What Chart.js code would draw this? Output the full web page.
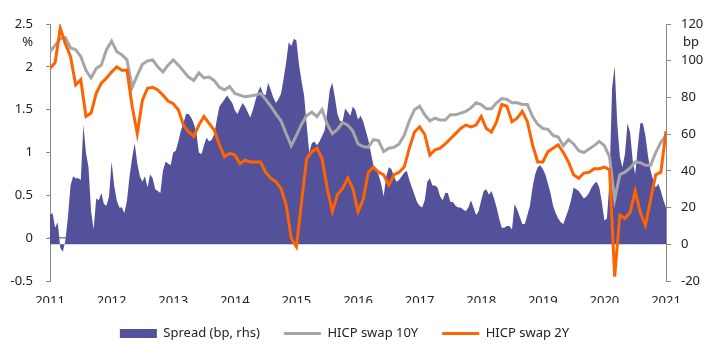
<!DOCTYPE html>
<html>
<head>
<meta charset="utf-8">
<script src="https://cdn.jsdelivr.net/npm/chart.js@4"></script>
<style>
  html, body { margin: 0; padding: 0; background: #fff; }
  #chart { display: block; }
</style>
</head>
<body>
<canvas id="chart" width="717" height="360"></canvas>
<script>
/** Year tick labels along the bottom */
const yearTicks = [2011, 2012, 2013, 2014, 2015, 2016, 2017, 2018, 2019, 2020, 2021];

/** Spread, bp (right axis), twice a month from Jan 2011 */
const spread = [
  16, 17, 9, 12, -2, -4, 2, 15, 32, 37, 36, 36, 35, 65, 50, 42, 18, 8, 25, 24, 28, 22, 21, 26,
  45, 32, 24, 20, 20, 17, 24, 37, 47, 55, 44, 37, 34, 37, 31, 38, 36, 30, 29, 28, 40, 45, 44, 43,
  50, 51, 56, 62, 66, 71, 71, 69, 66, 61, 50, 49, 54, 58, 56, 57, 60, 68, 75, 77, 79, 81, 79, 77,
  73, 71, 74, 77, 75, 72, 69, 73, 78, 83, 86, 82, 81, 88, 84, 80, 77, 79, 82, 90, 99, 110, 108, 112,
  111, 98, 89, 81, 65, 50, 55, 56, 54, 56, 59, 62, 72, 84, 88, 80, 71, 67, 67, 74, 72, 70, 75, 73,
  68, 70, 67, 62, 57, 50, 43, 40, 38, 33, 26, 37, 42, 41, 37, 34, 35, 37, 39, 40, 35, 31, 27, 23,
  21, 20, 24, 34, 36, 32, 32, 31, 26, 24, 28, 28, 23, 23, 21, 20, 20, 19, 18, 20, 24, 20, 16, 18,
  24, 29, 30, 27, 29, 25, 20, 14, 9, 9, 10, 10, 8, 22, 19, 15, 11, 11, 16, 21, 31, 38, 42, 43,
  41, 38, 33, 28, 21, 17, 14, 12, 11, 15, 19, 24, 31, 30, 29, 27, 25, 26, 28, 31, 33, 34, 31, 23,
  13, 14, 35, 85, 97, 66, 48, 42, 49, 66, 61, 46, 38, 53, 66, 66, 59, 48, 40, 35, 31, 33, 29, 24,
  20
];

/** HICP swap 10Y, % (left axis), monthly from Jan 2011 */
const swap10y = [
  2.18, 2.25, 2.33, 2.34, 2.22, 2.2, 2.12, 1.96, 1.87, 1.98, 2.02, 2.2,
  2.3, 2.18, 2.14, 2.08, 1.76, 1.9, 2.03, 2.07, 2.08, 2.0, 1.94, 2.02,
  2.08, 2.02, 1.95, 1.88, 1.84, 1.93, 1.87, 1.88, 1.84, 1.76, 1.73, 1.77,
  1.69, 1.67, 1.65, 1.66, 1.67, 1.69, 1.62, 1.54, 1.45, 1.37, 1.22, 1.08,
  1.2, 1.33, 1.43, 1.47, 1.42, 1.5, 1.33, 1.22, 1.27, 1.35, 1.32, 1.25,
  1.1, 1.07, 1.06, 1.15, 1.14, 1.01, 1.05, 1.06, 1.1, 1.2, 1.37, 1.5,
  1.54, 1.44, 1.37, 1.4, 1.38, 1.38, 1.44, 1.44, 1.46, 1.48, 1.52, 1.58,
  1.56, 1.51, 1.51, 1.58, 1.63, 1.62, 1.58, 1.58, 1.56, 1.56, 1.42, 1.33,
  1.28, 1.27, 1.2, 1.18, 1.08, 1.15, 1.1, 1.02, 1.0, 1.04, 1.08, 1.13,
  1.08, 0.95, 0.45, 0.74, 0.77, 0.82, 0.89, 0.88, 0.85, 0.85, 1.0, 1.12,
  1.2
];

/** HICP swap 2Y, % (left axis), monthly from Jan 2011 */
const swap2y = [
  1.98, 2.05, 2.45, 2.27, 2.12, 1.79, 1.85, 1.42, 1.46, 1.69, 1.81, 1.87,
  1.94, 2.0, 1.96, 1.96, 1.54, 1.22, 1.61, 1.75, 1.76, 1.73, 1.67, 1.6,
  1.57, 1.5, 1.32, 1.24, 1.19, 1.32, 1.42, 1.34, 1.26, 1.09, 0.95, 0.99,
  0.97, 0.87, 0.91, 0.89, 0.89, 0.89, 0.77, 0.7, 0.66, 0.58, 0.39, 0.0,
  -0.1, 0.42, 0.93, 1.01, 1.05, 0.93, 0.58, 0.31, 0.51, 0.58, 0.7, 0.58,
  0.31, 0.45, 0.77, 0.83, 0.77, 0.74, 0.62, 0.74, 0.77, 0.83, 1.05, 1.24,
  1.3, 1.21, 0.97, 1.03, 1.05, 1.1, 1.16, 1.22, 1.28, 1.32, 1.3, 1.32,
  1.42, 1.28, 1.24, 1.36, 1.56, 1.54, 1.36, 1.4, 1.48, 1.36, 1.09, 0.89,
  0.89, 1.01, 1.05, 1.09, 1.0, 0.89, 0.74, 0.7, 0.76, 0.77, 0.81, 0.81,
  0.83, 0.8, -0.45, 0.27, 0.23, 0.3, 0.55, 0.3, 0.15, 0.45, 0.74, 0.77,
  1.25
];

const seriesNames = ['Spread (bp, rhs)', 'HICP swap 10Y', 'HICP swap 2Y'];

const fontFamily = '"Noto Sans", sans-serif';
const textColor = '#222222';
const axisColor = '#8a8a8a';

// x position of each point in years, spread is twice-monthly, swaps monthly
const firstYear = yearTicks[0];
const toPoints = (values, perYear) => values.map((v, i) => ({x: firstYear + i / perYear, y: v}));

/** Draws the small unit labels under the top ticks */
const unitLabels = {
  id: 'unitLabels',
  afterDraw(chart) {
    const {ctx, chartArea, scales} = chart;
    ctx.save();
    ctx.font = `13px ${fontFamily}`;
    ctx.fillStyle = textColor;
    ctx.textBaseline = 'middle';
    ctx.textAlign = 'right';
    ctx.fillText('%', scales.y.right - 17, chartArea.top + 18);
    ctx.textAlign = 'left';
    ctx.fillText('bp', scales.y1.left + 17, chartArea.top + 18);
    ctx.restore();
  }
};

/** Legend sits a little left of the canvas centre */
const legendShift = {
  id: 'legendShift',
  afterLayout(chart) {
    chart.legend.left -= 28;
  }
};

new Chart(document.getElementById('chart'), {
  type: 'line',
  data: {
    datasets: [{
      label: seriesNames[0],
      data: toPoints(spread, 24),
      yAxisID: 'y1',
      backgroundColor: '#525199',
      borderColor: '#525199',
      borderWidth: 0,
      fill: 'origin',
      pointRadius: 0,
      pointStyle: 'rect',
      order: 3,
    }, {
      label: seriesNames[1],
      data: toPoints(swap10y, 12),
      yAxisID: 'y',
      borderColor: '#a6a6a6',
      backgroundColor: '#a6a6a6',
      borderWidth: 3,
      fill: false,
      pointRadius: 0,
      pointStyle: 'line',
      order: 2,
    }, {
      label: seriesNames[2],
      data: toPoints(swap2y, 12),
      yAxisID: 'y',
      borderColor: '#ff6200',
      backgroundColor: '#ff6200',
      borderWidth: 3,
      fill: false,
      pointRadius: 0,
      pointStyle: 'line',
      order: 1,
    }]
  },
  options: {
    responsive: false,
    animation: false,
    layout: {
      padding: {top: 24, right: 0, bottom: 10, left: 0}
    },
    scales: {
      x: {
        type: 'linear',
        position: 'bottom',
        min: yearTicks[0],
        max: yearTicks[yearTicks.length - 1],
        afterBuildTicks: (scale) => {
          scale.ticks = yearTicks.map(v => ({value: v}));
        },
        afterFit: (scale) => { scale.height = 22; },
        grid: {display: false, drawTicks: false},
        border: {display: false},
        ticks: {
          padding: 12,
          color: textColor,
          font: {family: fontFamily, size: 13},
          maxRotation: 0,
          callback: (value) => String(value),
        },
      },
      xZero: {
        type: 'linear',
        position: {y: 0},
        min: yearTicks[0],
        max: yearTicks[yearTicks.length - 1],
        afterBuildTicks: (scale) => {
          scale.ticks = yearTicks.map(v => ({value: v}));
        },
        grid: {drawOnChartArea: false, drawTicks: true, tickLength: 5, color: axisColor, lineWidth: 1},
        border: {display: true, color: axisColor, width: 1.5},
        ticks: {display: false},
      },
      y: {
        position: 'left',
        min: -0.5,
        max: 2.5,
        afterFit: (scale) => { scale.width = 50; },
        grid: {drawOnChartArea: false, drawTicks: true, tickLength: 4, color: axisColor},
        border: {display: true, color: axisColor, width: 1},
        ticks: {
          stepSize: 0.5,
          padding: 13,
          color: textColor,
          font: {family: fontFamily, size: 13},
          callback: (value) => String(value),
        },
      },
      y1: {
        position: 'right',
        min: -20,
        max: 120,
        afterFit: (scale) => { scale.width = 51; },
        grid: {drawOnChartArea: false, drawTicks: true, tickLength: 5, color: axisColor},
        border: {display: true, color: axisColor, width: 1},
        ticks: {
          stepSize: 20,
          padding: 10,
          color: textColor,
          font: {family: fontFamily, size: 13},
        },
      },
    },
    plugins: {
      legend: {
        position: 'bottom',
        labels: {
          usePointStyle: true,
          pointStyleWidth: 37,
          boxHeight: 9,
          padding: 24,
          color: textColor,
          font: {family: fontFamily, size: 13},
          sort: (a, b) => a.datasetIndex - b.datasetIndex,
        },
      },
      tooltip: {enabled: false},
    },
  },
  plugins: [unitLabels, legendShift],
});
</script>
</body>
</html>
